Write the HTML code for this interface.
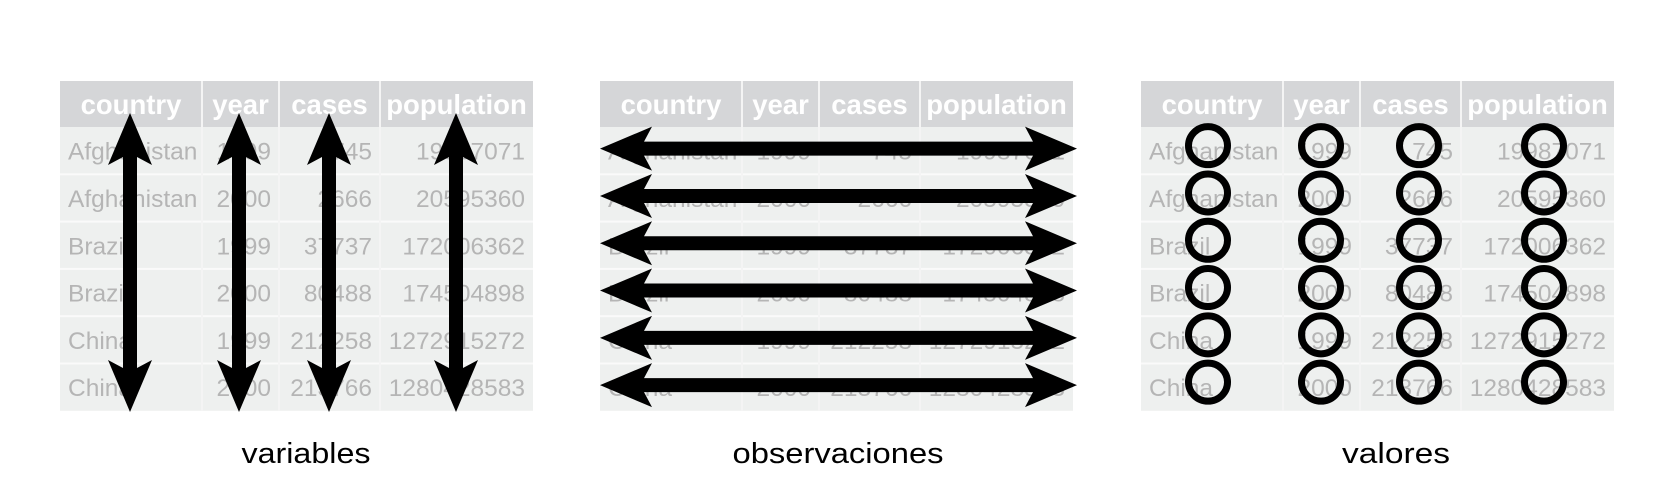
<!DOCTYPE html>
<html><head><meta charset="utf-8"><style>
html,body{margin:0;padding:0;background:#fff;}
svg{display:block;}
</style></head><body>
<svg id="fig" width="1678" height="499" viewBox="0 0 1678 499" xmlns="http://www.w3.org/2000/svg">
<g id="tables"></g>
<g id="marks"></g>
<text x="306" y="463" font-family="Liberation Sans, sans-serif" font-size="29" text-anchor="middle" textLength="129" lengthAdjust="spacingAndGlyphs">variables</text>
<text x="838" y="463" font-family="Liberation Sans, sans-serif" font-size="29" text-anchor="middle" textLength="211" lengthAdjust="spacingAndGlyphs">observaciones</text>
<text x="1396" y="463" font-family="Liberation Sans, sans-serif" font-size="29" text-anchor="middle" textLength="108" lengthAdjust="spacingAndGlyphs">valores</text>
</svg>
<script>
const headers = ["country","year","cases","population"];
const countries = ["Afghanistan","Afghanistan","Brazil","Brazil","China","China"];
const years = ["1999","2000","1999","2000","1999","2000"];
const cases = ["745","2666","37737","80488","212258","213766"];
const populations = ["19987071","20595360","172006362","174504898","1272915272","1280428583"];
const tableLefts = [60, 600, 1141];
const colW = [142, 77, 101, 153];
const top0 = 81, headH = 46, rowH = 47.3;
const NS = "http://www.w3.org/2000/svg";
const tg = document.getElementById('tables');
const mg = document.getElementById('marks');
function mk(tag, attrs, parent){const e=document.createElementNS(NS,tag);for(const k in attrs)e.setAttribute(k,attrs[k]);parent.appendChild(e);return e;}
const cols=[countries,years,cases,populations];
tableLefts.forEach((L,ti)=>{
  const g=mk('g',{},tg);
  
  
  const W=colW.reduce((a,b)=>a+b,0);
  const nrows=countries.length;
  const hb=mk('rect',{x:L,y:top0,width:W,height:headH,fill:'#d5d6d8'},g);
  
  
  mk('rect',{x:L,y:top0+headH,width:W,height:rowH*nrows,fill:'#eef0ef'},g);
  for(let r=1;r<nrows;r++){mk('rect',{x:L,y:top0+headH+r*rowH-1,width:W,height:2,fill:'#fafafa'},g);}
  let x=L;
  colW.forEach((w,ci)=>{
    if(ci>0){mk('rect',{x:x-1,y:top0,width:2,height:headH+rowH*nrows,fill:'#f4f4f4'},g);}
    const h=mk('text',{x:x+w/2,y:top0+33,'font-family':'Liberation Sans, sans-serif','font-size':'27.5','font-weight':'bold',fill:'#fff','text-anchor':'middle'},g);
    h.textContent=headers[ci];
    
    
    cols[ci].forEach((v,r)=>{
      const left=ci===0;
      const t=mk('text',{x:left?x+8:x+w-8,y:top0+headH+r*rowH+rowH/2+9,'font-family':'Liberation Sans, sans-serif','font-size':'24.5',fill:'#b5b5b5','text-anchor':left?'start':'end'},g);
      t.textContent=v;
      
      
    });
    x+=w;
  });
});
function varrow(cx,y1,y2){
  const hl=44,hw=22,sw=7,n=8;
  return `M${cx},${y1} L${cx+hw},${y1+hl+n} L${cx+sw},${y1+hl} L${cx+sw},${y2-hl} L${cx+hw},${y2-hl-n} L${cx},${y2} L${cx-hw},${y2-hl-n} L${cx-sw},${y2-hl} L${cx-sw},${y1+hl} L${cx-hw},${y1+hl+n} Z`;
}
function harrow(cy,x1,x2){
  const hl=44,hw=22,sw=7,n=8;
  return `M${x1},${cy} L${x1+hl+n},${cy-hw} L${x1+hl},${cy-sw} L${x2-hl},${cy-sw} L${x2-hl-n},${cy-hw} L${x2},${cy} L${x2-hl-n},${cy+hw} L${x2-hl},${cy+sw} L${x1+hl},${cy+sw} L${x1+hl+n},${cy+hw} Z`;
}
const vx=[130,239,329,456];
vx.forEach((cx,i)=>{
  const p=mk('path',{d:varrow(cx,113,412),fill:'#000'},mg);
  
  
});
countries.forEach((c,r)=>{
  const cy=top0+headH+r*rowH+rowH/2-2;
  const p=mk('path',{d:harrow(cy,600,1077),fill:'#000'},mg);
  
  
});
const cxs=[1208,1321,1419,1544];
countries.forEach((c,r)=>{
  const cy=top0+headH+r*rowH+rowH/2-5;
  cxs.forEach(cx=>{
    const ci=mk('ellipse',{cx:cx,cy:cy,rx:19.5,ry:19,fill:'none',stroke:'#000','stroke-width':7},mg);
    
    
  });
});
</script>
</body></html>
